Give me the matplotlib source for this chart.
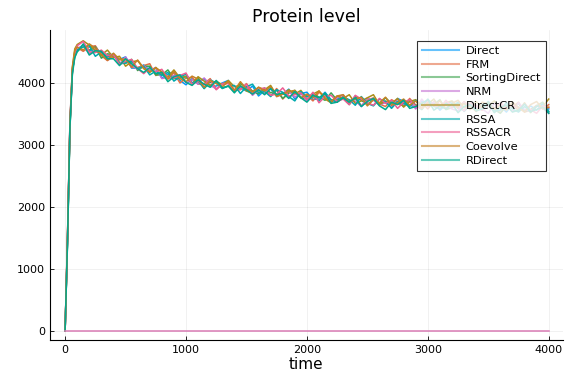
import numpy as np
import matplotlib
matplotlib.use("Agg")
import matplotlib.pyplot as plt

# sample times (model time units)
times = [0, 20, 40, 60, 80, 100] + list(range(150, 4001, 50))

labels = ["Direct", "FRM", "SortingDirect", "NRM", "DirectCR",
          "RSSA", "RSSACR", "Coevolve", "RDirect"]
colors = ["#009AFA", "#E36F47", "#3EA44E", "#C371D2", "#AC8E18",
          "#00AAAE", "#ED5E93", "#C68225", "#00A98D"]

# protein counts, one list per aggregator
direct = [0, 1480, 3350, 4180, 4470, 4540,
          4610, 4510, 4590, 4460, 4370, 4440,
          4380, 4420, 4240, 4240, 4290, 4200, 4240, 4080, 4140, 4180, 4040, 3970,
          4070, 4020, 4070, 3940, 3950, 4000, 4040, 3870, 3920, 3870, 3950, 3790,
          3880, 3900, 3800, 3820, 3900, 3740, 3830, 3850, 3730, 3750, 3850, 3720,
          3740, 3770, 3660, 3790, 3620, 3720, 3740, 3650, 3690, 3610, 3750, 3700,
          3640, 3610, 3710, 3640, 3680, 3560, 3650, 3700, 3590, 3560, 3670, 3610,
          3570, 3700, 3590, 3630, 3530, 3660, 3610, 3540, 3630, 3560, 3670, 3580]
frm = [0, 1550, 3280, 4230, 4430, 4570,
       4510, 4580, 4600, 4440, 4360, 4430,
       4370, 4400, 4250, 4250, 4280, 4310, 4120, 4160, 4090, 4160, 4000, 4080,
       4090, 3980, 3990, 4070, 3900, 3990, 4000, 3880, 3890, 3990, 3860, 3870,
       3900, 3790, 3910, 3740, 3840, 3860, 3760, 3800, 3710, 3850, 3790, 3730,
       3690, 3790, 3710, 3760, 3630, 3720, 3760, 3660, 3620, 3730, 3670, 3630,
       3750, 3640, 3680, 3580, 3700, 3650, 3580, 3670, 3590, 3700, 3610, 3640,
       3560, 3680, 3590, 3520, 3640, 3610, 3690, 3530, 3560, 3640, 3580, 3650]
sorting_direct = [0, 1420, 3300, 4150, 4500, 4510,
                  4590, 4530, 4580, 4400, 4470, 4450,
                  4330, 4320, 4380, 4200, 4270, 4270, 4130, 4130, 4210, 4070, 4080, 4100,
                  3980, 4090, 3910, 4010, 4020, 3920, 3950, 3860, 3990, 3930, 3870, 3820,
                  3920, 3840, 3880, 3750, 3840, 3880, 3770, 3730, 3830, 3770, 3720, 3840,
                  3720, 3760, 3650, 3780, 3720, 3650, 3730, 3660, 3760, 3670, 3700, 3620,
                  3730, 3640, 3570, 3690, 3650, 3730, 3570, 3600, 3670, 3610, 3680, 3540,
                  3630, 3690, 3570, 3510, 3630, 3600, 3670, 3540, 3570, 3630, 3690, 3530]
nrm = [0, 1500, 3380, 4210, 4460, 4560,
       4600, 4470, 4550, 4480, 4410, 4460,
       4300, 4420, 4280, 4220, 4280, 4200, 4250, 4070, 4090, 4120, 4130, 4000,
       4050, 3980, 4080, 3970, 3900, 3990, 4000, 3880, 3910, 3940, 3800, 3890,
       3830, 3920, 3780, 3820, 3870, 3770, 3830, 3710, 3790, 3740, 3810, 3680,
       3760, 3810, 3680, 3710, 3620, 3760, 3720, 3640, 3690, 3620, 3740, 3650,
       3700, 3580, 3740, 3620, 3690, 3640, 3640, 3580, 3550, 3690, 3580, 3630,
       3580, 3510, 3670, 3590, 3630, 3540, 3680, 3570, 3540, 3630, 3600, 3510]
direct_cr = [0, 1530, 3310, 4260, 4550, 4620,
             4680, 4610, 4520, 4450, 4530, 4410,
             4430, 4270, 4340, 4360, 4230, 4170, 4250, 4170, 4100, 4210, 4080, 4110,
             3990, 4100, 4030, 3960, 4030, 3970, 4040, 3940, 3960, 3870, 3830, 3930,
             3890, 3960, 3800, 3820, 3890, 3820, 3880, 3740, 3820, 3870, 3740, 3680,
             3790, 3750, 3810, 3670, 3710, 3760, 3810, 3650, 3710, 3670, 3750, 3610,
             3700, 3730, 3630, 3660, 3740, 3590, 3680, 3710, 3610, 3670, 3570, 3700,
             3600, 3630, 3710, 3590, 3620, 3660, 3550, 3680, 3520, 3630, 3620, 3740]
rssa = [0, 1460, 3250, 4190, 4420, 4530,
        4580, 4600, 4430, 4500, 4420, 4470,
        4310, 4320, 4350, 4230, 4270, 4130, 4190, 4120, 4170, 4030, 4100, 4140,
        4000, 4030, 3910, 4050, 4000, 3910, 3950, 3960, 3830, 3940, 3980, 3840,
        3860, 3780, 3890, 3850, 3780, 3710, 3860, 3780, 3810, 3710, 3840, 3730,
        3690, 3770, 3730, 3640, 3780, 3670, 3630, 3740, 3700, 3590, 3700, 3670,
        3620, 3720, 3580, 3740, 3620, 3590, 3670, 3620, 3690, 3540, 3640, 3580,
        3660, 3630, 3550, 3560, 3680, 3580, 3530, 3620, 3530, 3620, 3650, 3540]
rssacr = [0, 1510, 3340, 4170, 4480, 4600,
          4670, 4500, 4490, 4530, 4440, 4460,
          4300, 4350, 4380, 4230, 4150, 4240, 4180, 4220, 4070, 4080, 4120, 4160,
          3980, 4030, 3970, 4050, 3890, 3980, 3990, 3890, 3900, 3980, 3820, 3900,
          3920, 3800, 3820, 3920, 3790, 3810, 3840, 3730, 3850, 3680, 3780, 3800,
          3700, 3740, 3650, 3800, 3740, 3680, 3640, 3750, 3670, 3720, 3590, 3690,
          3730, 3630, 3590, 3700, 3640, 3600, 3720, 3610, 3650, 3550, 3680, 3620,
          3560, 3650, 3580, 3680, 3590, 3640, 3590, 3660, 3570, 3510, 3630, 3600]
coevolve = [0, 1490, 3360, 4240, 4520, 4580,
            4530, 4630, 4560, 4460, 4370, 4480,
            4380, 4380, 4260, 4370, 4240, 4180, 4240, 4180, 4060, 4190, 4070, 4020,
            4110, 4060, 3930, 4040, 3990, 3940, 4020, 3880, 4020, 3900, 3860, 3930,
            3870, 3940, 3780, 3820, 3860, 3880, 3760, 3820, 3760, 3870, 3760, 3700,
            3790, 3810, 3690, 3740, 3770, 3630, 3730, 3680, 3770, 3640, 3680, 3740,
            3640, 3710, 3590, 3680, 3630, 3710, 3580, 3670, 3720, 3600, 3630, 3540,
            3690, 3660, 3580, 3630, 3560, 3690, 3600, 3530, 3650, 3700, 3580, 3610]
rdirect = [0, 1440, 3290, 4140, 4410, 4500,
           4630, 4450, 4520, 4510, 4390, 4390,
           4280, 4390, 4310, 4230, 4170, 4250, 4150, 4170, 4020, 4100, 4130, 4010,
           3960, 4050, 3980, 3930, 4040, 3920, 3950, 3840, 3950, 3890, 3820, 3890,
           3810, 3910, 3810, 3840, 3750, 3860, 3760, 3690, 3800, 3760, 3830, 3670,
           3690, 3760, 3690, 3760, 3620, 3700, 3750, 3630, 3570, 3690, 3650, 3720,
           3590, 3620, 3670, 3730, 3560, 3630, 3580, 3670, 3520, 3620, 3650, 3550,
           3580, 3670, 3520, 3610, 3640, 3530, 3560, 3660, 3540, 3570, 3610, 3510]

series = [direct, frm, sorting_direct, nrm, direct_cr, rssa, rssacr, coevolve, rdirect]

# second species stays at zero the whole run
zero_t = [0, 4000]
zero_v = [0, 0]

fig = plt.figure(figsize=(5.76, 3.84), dpi=100)
ax = fig.add_axes([0.087, 0.115, 0.89, 0.807])

for vals, lab, col in zip(series, labels, colors):
    ax.plot(times, vals, color=col, lw=1.1, label=lab)
ax.plot(zero_t, zero_v, color="#D97BB4", lw=1.1)

ax.set_xlim(-124, 4116)
ax.set_ylim(-145, 4855)
ax.set_xticks([0, 1000, 2000, 3000, 4000])
ax.set_yticks([0, 1000, 2000, 3000, 4000])
ax.tick_params(direction="in", length=3, width=0.6, labelsize=8, colors="black")
ax.grid(True, color="black", alpha=0.08, lw=0.5)

for side in ["top", "right"]:
    ax.spines[side].set_visible(False)
for side in ["left", "bottom"]:
    ax.spines[side].set_linewidth(0.8)

ax.set_title("Protein level", fontsize=12.5)
ax.set_xlabel("time", fontsize=11, labelpad=2)

leg = ax.legend(loc="upper right", fontsize=8.2, frameon=True, fancybox=False,
                handlelength=3.2, handletextpad=0.6, borderpad=0.45,
                labelspacing=0.33, borderaxespad=0,
                bbox_to_anchor=(0.968, 0.965))
leg.get_frame().set_edgecolor("black")
leg.get_frame().set_linewidth(0.8)
for line in leg.get_lines():
    line.set_alpha(0.6)
    line.set_linewidth(1.5)

fig.savefig("out.png", dpi=100)
